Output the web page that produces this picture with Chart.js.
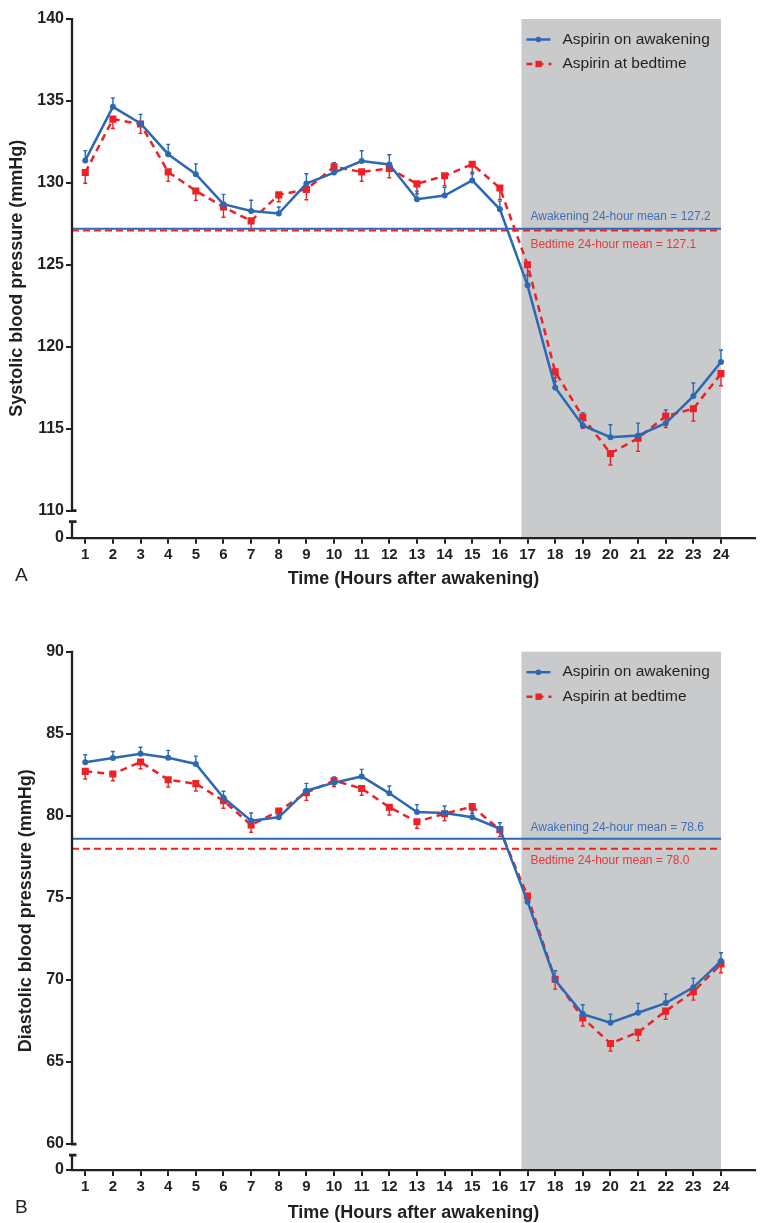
<!DOCTYPE html>
<html>
<head>
<meta charset="utf-8">
<script src="https://cdn.jsdelivr.net/npm/chart.js@4.4.1/dist/chart.umd.min.js"></script>
<style>
html,body{margin:0;padding:0;background:#fff;}
body{width:760px;height:1223px;position:relative;overflow:hidden;}
#ca{position:absolute;left:0;top:0;}
#cb{position:absolute;left:0;top:620px;}
</style>
</head>
<body>
<canvas id="ca" width="760" height="600"></canvas>
<canvas id="cb" width="760" height="603"></canvas>
<script>
// ---------- data ----------
const hours = [1,2,3,4,5,6,7,8,9,10,11,12,13,14,15,16,17,18,19,20,21,22,23,24];
const seriesLabels = ['Aspirin on awakening', 'Aspirin at bedtime'];
const restStart = 16.78;   // start of the shaded (sleep) span, in hours
const restEnd = 24;

// Panel A: systolic
const sbpAwakening    = [131.37,134.64,133.63,131.75,130.53,128.70,128.29,128.13,129.96,130.63,131.33,131.12,129.00,129.23,130.15,128.39,123.75,117.52,115.20,114.48,114.59,115.34,116.99,119.07];
const sbpAwakeningSem = [0.60,0.55,0.55,0.60,0.63,0.60,0.65,0.40,0.60,0.60,0.63,0.60,0.50,0.50,0.50,0.50,0.60,0.60,0.78,0.76,0.75,0.80,0.80,0.73];
const sbpBedtime      = [130.63,133.89,133.59,130.67,129.51,128.53,127.68,129.27,129.60,130.98,130.67,130.88,129.94,130.43,131.14,129.69,125.01,118.48,115.71,113.49,114.42,115.77,116.22,118.36];
const sbpBedtimeSem   = [0.65,0.57,0.57,0.58,0.58,0.63,0.58,0.42,0.63,0.40,0.57,0.57,0.60,0.60,0.60,0.70,0.65,0.60,0.68,0.70,0.80,0.70,0.75,0.74];
const sbpMeans = [127.2, 127.1];
const sbpMeanLabels = ['Awakening 24-hour mean = 127.2', 'Bedtime 24-hour mean = 127.1'];
const sbpTicks = [110,115,120,125,130,135,140];

// Panel B: diastolic
const dbpAwakening    = [83.26,83.52,83.78,83.54,83.16,81.10,79.70,79.91,81.53,82.02,82.40,81.37,80.23,80.17,79.91,79.21,74.77,70.00,67.92,67.39,68.00,68.59,69.55,71.15];
const dbpAwakeningSem = [0.46,0.40,0.40,0.45,0.48,0.40,0.47,0.30,0.45,0.35,0.43,0.45,0.45,0.43,0.40,0.37,0.40,0.56,0.57,0.53,0.57,0.55,0.55,0.51];
const dbpBedtime      = [82.71,82.55,83.28,82.20,81.96,80.92,79.44,80.29,81.41,82.14,81.67,80.52,79.64,80.13,80.56,79.15,75.11,70.04,67.68,66.13,66.81,68.10,69.28,70.97];
const dbpBedtimeSem   = [0.47,0.41,0.41,0.44,0.45,0.46,0.44,0.30,0.47,0.35,0.42,0.47,0.40,0.43,0.40,0.42,0.44,0.60,0.49,0.46,0.51,0.50,0.51,0.53];
const dbpMeans = [78.6, 78.0];
const dbpMeanLabels = ['Awakening 24-hour mean = 78.6', 'Bedtime 24-hour mean = 78.0'];
const dbpTicks = [60,65,70,75,80,85,90];

// ---------- style ----------
const FONT = "'Liberation Sans', Arial, Helvetica, sans-serif";
Chart.defaults.font.family = FONT;
const INK = '#231f20';
const BLUE = '#2c69b3';
const RED = '#ec2227';
const BLUE_TXT = '#3d70b8';
const RED_TXT = '#e8383d';
const GRAY = '#c9cacc';

function makePanel(canvasId, c) {
  const pts = vals => hours.map((h, i) => ({x: h, y: vals[i]}));
  const yMax = c.yTicks[c.yTicks.length - 1];
  const yBreak = c.yTicks[0];

  const decor = {
    id: 'decor_' + canvasId,
    beforeDraw(chart) {
      const {ctx, chartArea: a, scales: {x, y}} = chart;
      ctx.save();
      ctx.fillStyle = '#fff';
      ctx.fillRect(0, 0, chart.width, chart.height);
      const x1 = x.getPixelForValue(restStart), x2 = x.getPixelForValue(restEnd);
      const yt = y.getPixelForValue(yMax);
      ctx.fillStyle = GRAY;
      ctx.fillRect(x1, yt, x2 - x1, a.bottom - yt);
      ctx.restore();
    },
    beforeDatasetsDraw(chart) {
      const {ctx, scales: {x, y}} = chart;
      ctx.save();
      ctx.lineWidth = 1.4;
      const drawErr = (vals, sems, dir, color) => {
        ctx.strokeStyle = color;
        hours.forEach((h, i) => {
          const px = x.getPixelForValue(h);
          const p0 = y.getPixelForValue(vals[i]);
          const p1 = y.getPixelForValue(vals[i] + dir * sems[i]);
          ctx.beginPath();
          ctx.moveTo(px, p0); ctx.lineTo(px, p1);
          ctx.moveTo(px - 2, p1); ctx.lineTo(px + 2, p1);
          ctx.stroke();
        });
      };
      drawErr(c.bed, c.bedSem, -1, RED);
      drawErr(c.awake, c.awakeSem, 1, BLUE);
      ctx.restore();
    },
    afterDraw(chart) {
      const {ctx, chartArea: a, scales: {x, y}} = chart;
      ctx.save();
      // y axis with break
      const ax = a.left;
      const yb1 = y.getPixelForValue(yBreak);
      const yb2 = y.getPixelForValue(yBreak - c.gapValue);
      ctx.strokeStyle = INK;
      ctx.lineWidth = 2.3;
      ctx.beginPath();
      ctx.moveTo(ax, y.getPixelForValue(yMax) - 1); ctx.lineTo(ax, yb1);
      ctx.moveTo(ax, yb2); ctx.lineTo(ax, a.bottom + 1);
      ctx.stroke();
      ctx.lineWidth = 2.8;
      ctx.beginPath();
      ctx.moveTo(ax - 1, yb1); ctx.lineTo(ax + 4.5, yb1);
      ctx.moveTo(ax - 3, yb2); ctx.lineTo(ax + 4.5, yb2);
      ctx.stroke();

      // mean labels
      const gx = x.getPixelForValue(restStart) + 9;
      ctx.font = '12px ' + FONT;
      ctx.textAlign = 'left';
      ctx.textBaseline = 'middle';
      ctx.fillStyle = BLUE_TXT;
      ctx.fillText(c.meanLabels[0], gx, y.getPixelForValue(c.means[0]) - c.meanOff[0]);
      ctx.fillStyle = RED_TXT;
      ctx.fillText(c.meanLabels[1], gx, y.getPixelForValue(c.means[1]) + c.meanOff[1]);

      // legend
      const lx = x.getPixelForValue(restStart) + 5;
      const r1 = a.top + 20.5, r2 = a.top + 45;
      ctx.strokeStyle = BLUE; ctx.lineWidth = 2.5; ctx.setLineDash([]);
      ctx.beginPath(); ctx.moveTo(lx, r1); ctx.lineTo(lx + 24, r1); ctx.stroke();
      ctx.fillStyle = BLUE;
      ctx.beginPath(); ctx.arc(lx + 12, r1, 2.8, 0, Math.PI * 2); ctx.fill();
      ctx.strokeStyle = RED; ctx.setLineDash([6, 5]);
      ctx.beginPath(); ctx.moveTo(lx, r2); ctx.lineTo(lx + 25, r2); ctx.stroke();
      ctx.setLineDash([]);
      ctx.fillStyle = RED;
      ctx.fillRect(lx + 9, r2 - 3.2, 6.4, 6.4);
      ctx.fillStyle = INK;
      ctx.font = '15.5px ' + FONT;
      ctx.fillText(seriesLabels[0], lx + 36, r1);
      ctx.fillText(seriesLabels[1], lx + 36, r2);

      // panel letter
      ctx.font = '19px ' + FONT;
      ctx.fillStyle = INK;
      ctx.fillText(c.panel, 15, c.panelY);
      ctx.restore();
    }
  };

  return new Chart(document.getElementById(canvasId), {
    type: 'line',
    data: {
      datasets: [
        {label: seriesLabels[0], data: pts(c.awake), borderColor: BLUE, backgroundColor: BLUE,
         borderWidth: 2.5, pointStyle: 'circle', pointRadius: 3, pointBorderWidth: 0,
         pointBackgroundColor: BLUE, tension: 0, order: 1},
        {label: seriesLabels[1], data: pts(c.bed), borderColor: RED, backgroundColor: RED,
         borderWidth: 2.5, borderDash: [7, 5], pointStyle: 'rect', pointRadius: 5, pointBorderWidth: 0,
         pointBackgroundColor: RED, tension: 0, order: 2},
        {label: 'mean awakening', data: [{x: c.xMin, y: c.means[0]}, {x: restEnd, y: c.means[0]}],
         borderColor: BLUE, borderWidth: 2, pointRadius: 0, order: 3},
        {label: 'mean bedtime', data: [{x: c.xMin, y: c.means[1]}, {x: restEnd, y: c.means[1]}],
         borderColor: RED, borderWidth: 2, borderDash: [7, 4], pointRadius: 0, order: 4}
      ]
    },
    options: {
      responsive: false,
      animation: false,
      devicePixelRatio: 1,
      layout: {padding: {top: c.padTop, right: 2, left: 0, bottom: c.padBottom}},
      plugins: {legend: {display: false}, tooltip: {enabled: false}},
      scales: {
        x: {
          type: 'linear', min: c.xMin, max: c.xMax,
          afterBuildTicks: s => { s.ticks = hours.map(v => ({value: v})); },
          afterFit: s => { s.height = c.xHeight; },
          ticks: {autoSkip: false, maxRotation: 0, color: INK, padding: 2,
                  font: {size: 15, weight: 'bold'}, callback: v => String(v)},
          grid: {drawOnChartArea: false, drawTicks: true, tickLength: 6, color: INK, lineWidth: 2},
          border: {display: true, color: INK, width: 2.3},
          title: {display: true, text: 'Time (Hours after awakening)', color: INK,
                  font: {size: 18, weight: 'bold'}, padding: {top: 0, bottom: c.xTitlePad}}
        },
        y: {
          type: 'linear', min: c.yMin, max: yMax,
          afterBuildTicks: s => { s.ticks = [{value: c.yMin}].concat(c.yTicks.map(v => ({value: v}))); },
          afterFit: s => { s.width = 72; },
          ticks: {color: INK, padding: 2, font: {size: 16, weight: 'bold'},
                  callback: v => (v === c.yMin ? '0' : String(v))},
          grid: {drawOnChartArea: false, drawTicks: true, tickLength: 6, color: INK, lineWidth: 2},
          border: {display: false},
          title: {display: true, text: c.yTitle, color: INK,
                  font: {size: 18, weight: 'bold'}, padding: {top: c.yTitlePad, bottom: 0}}
        }
      }
    },
    plugins: [decor]
  });
}

makePanel('ca', {
  awake: sbpAwakening, awakeSem: sbpAwakeningSem, bed: sbpBedtime, bedSem: sbpBedtimeSem,
  means: sbpMeans, meanLabels: sbpMeanLabels, meanOff: [12, 14],
  yTicks: sbpTicks, yMin: 108.35, gapValue: 0.67,
  yTitle: 'Systolic blood pressure (mmHg)', yTitlePad: 6.7,
  xMin: 0.52, xMax: 25.23, xHeight: 62.3, xTitlePad: 10,
  padTop: 19, padBottom: 0, panel: 'A', panelY: 576
});

makePanel('cb', {
  awake: dbpAwakening, awakeSem: dbpAwakeningSem, bed: dbpBedtime, bedSem: dbpBedtimeSem,
  means: dbpMeans, meanLabels: dbpMeanLabels, meanOff: [11, 12.5],
  yTicks: dbpTicks, yMin: 58.42, gapValue: 0.67,
  yTitle: 'Diastolic blood pressure (mmHg)', yTitlePad: 15,
  xMin: 0.52, xMax: 25.23, xHeight: 53, xTitlePad: -1,
  padTop: 31.7, padBottom: 0, panel: 'B', panelY: 588
});
</script>
</body>
</html>
